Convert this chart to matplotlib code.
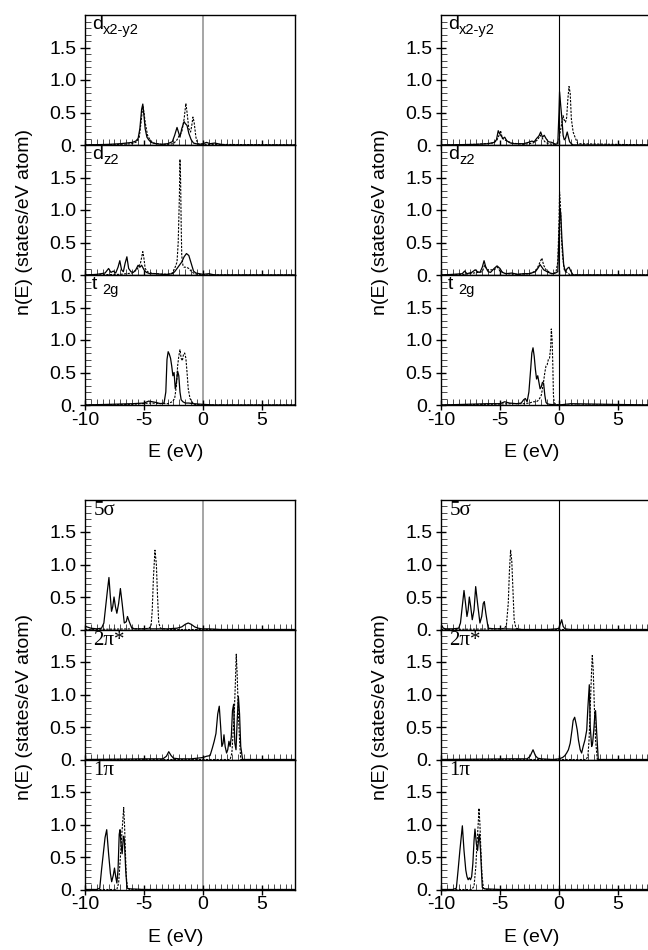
import matplotlib
matplotlib.use("Agg")
import matplotlib.pyplot as plt
from matplotlib.ticker import MultipleLocator, FixedLocator, FuncFormatter

plt.rcParams['font.family'] = ['Liberation Sans', 'DejaVu Sans']
plt.rcParams['axes.unicode_minus'] = False

# ---- data (E in eV, n in states/eV atom) ----
# left column (A), d-projected
a_dx_sol_e = [-10, -8, -7, -6.5, -6.0, -5.7, -5.5, -5.35, -5.2, -5.1, -5.0, -4.9, -4.75, -4.6, -4.4, -4.0, -3.5, -3.0, -2.6, -2.4, -2.2, -2.05, -1.95, -1.8, -1.6, -1.5, -1.35, -1.2, -1.0, -0.8, -0.6, -0.3, 0.0, 0.3, 0.6, 1.0, 1.5, 2.0, 7.8]
a_dx_sol_n = [0.0, 0.01, 0.02, 0.03, 0.04, 0.06, 0.10, 0.25, 0.55, 0.63, 0.45, 0.25, 0.12, 0.08, 0.04, 0.02, 0.01, 0.02, 0.05, 0.15, 0.27, 0.18, 0.12, 0.25, 0.36, 0.33, 0.30, 0.18, 0.08, 0.03, 0.02, 0.01, 0.02, 0.04, 0.02, 0.03, 0.01, 0.0, 0.0]
a_dx_dot_e = [-10, -7, -6, -5.6, -5.4, -5.25, -5.1, -5.0, -4.9, -4.7, -4.5, -4.2, -3.5, -3.0, -2.5, -2.2, -2.0, -1.8, -1.6, -1.45, -1.35, -1.2, -1.05, -0.95, -0.85, -0.75, -0.6, -0.45, 0, 1, 7.8]
a_dx_dot_n = [0, 0.01, 0.02, 0.05, 0.12, 0.35, 0.60, 0.50, 0.35, 0.15, 0.08, 0.03, 0.01, 0.01, 0.02, 0.08, 0.15, 0.2, 0.4, 0.64, 0.5, 0.25, 0.2, 0.3, 0.43, 0.35, 0.12, 0.02, 0.01, 0.01, 0]

a_dz_sol_e = [-10, -9, -8.3, -8.0, -7.8, -7.6, -7.4, -7.2, -7.05, -6.9, -6.75, -6.6, -6.45, -6.3, -6.1, -5.9, -5.7, -5.5, -5.35, -5.2, -5.0, -4.8, -4.5, -4.0, -3.5, -3.0, -2.6, -2.4, -2.2, -2.0, -1.8, -1.6, -1.4, -1.2, -1.0, -0.8, -0.6, -0.3, 0, 0.5, 1, 7.8]
a_dz_sol_n = [0.0, 0.01, 0.03, 0.10, 0.04, 0.06, 0.03, 0.12, 0.22, 0.08, 0.05, 0.18, 0.28, 0.10, 0.05, 0.04, 0.08, 0.15, 0.12, 0.15, 0.08, 0.04, 0.02, 0.02, 0.01, 0.01, 0.02, 0.05, 0.10, 0.15, 0.2, 0.28, 0.33, 0.30, 0.18, 0.06, 0.03, 0.02, 0.01, 0.02, 0, 0]
a_dz_dot_e = [-10, -7, -6, -5.6, -5.3, -5.1, -5.0, -4.9, -4.7, -4.4, -4.0, -3.0, -2.6, -2.4, -2.2, -2.1, -2.0, -1.95, -1.9, -1.85, -1.8, -1.7, -1.6, -1.4, -1.2, -1.0, -0.8, -0.5, 0, 7.8]
a_dz_dot_n = [0, 0.01, 0.03, 0.08, 0.18, 0.36, 0.25, 0.10, 0.05, 0.03, 0.02, 0.01, 0.03, 0.10, 0.20, 0.5, 1.2, 1.78, 1.5, 0.8, 0.3, 0.15, 0.12, 0.12, 0.10, 0.06, 0.03, 0.01, 0, 0]

a_t2_sol_e = [-10, -8, -6, -5, -4.6, -4.3, -4.0, -3.6, -3.3, -3.15, -3.05, -2.95, -2.85, -2.75, -2.65, -2.55, -2.45, -2.35, -2.25, -2.15, -2.05, -1.95, -1.85, -1.7, -1.5, -1.2, -0.8, 0, 1, 7.8]
a_t2_sol_n = [0.0, 0.01, 0.02, 0.03, 0.06, 0.05, 0.04, 0.02, 0.03, 0.2, 0.7, 0.82, 0.78, 0.72, 0.6, 0.45, 0.5, 0.25, 0.35, 0.52, 0.45, 0.2, 0.08, 0.05, 0.03, 0.03, 0.02, 0.01, 0.0, 0.0]
a_t2_dot_e = [-10, -6, -4.5, -3.0, -2.6, -2.4, -2.25, -2.15, -2.05, -1.95, -1.85, -1.75, -1.65, -1.55, -1.45, -1.35, -1.25, -1.1, -0.9, -0.7, 0, 7.8]
a_t2_dot_n = [0, 0.01, 0.03, 0.02, 0.05, 0.1, 0.3, 0.6, 0.75, 0.85, 0.72, 0.68, 0.78, 0.8, 0.72, 0.5, 0.25, 0.1, 0.04, 0.01, 0, 0]

# right column (B), d-projected
b_dx_sol_e = [-10, -7, -6, -5.5, -5.3, -5.15, -5.05, -4.9, -4.75, -4.6, -4.45, -4.3, -4.1, -3.8, -3.4, -3.0, -2.6, -2.3, -2.1, -1.9, -1.7, -1.55, -1.4, -1.25, -1.1, -0.9, -0.6, -0.3, -0.1, 0.0, 0.05, 0.15, 0.25, 0.35, 0.45, 0.55, 0.7, 0.8, 0.9, 1.05, 1.2, 7.8]
b_dx_sol_n = [0, 0.01, 0.02, 0.04, 0.08, 0.22, 0.18, 0.14, 0.10, 0.12, 0.07, 0.05, 0.03, 0.02, 0.02, 0.02, 0.04, 0.06, 0.05, 0.1, 0.14, 0.2, 0.12, 0.15, 0.1, 0.05, 0.04, 0.01, 0.02, 0.5, 0.82, 0.6, 0.4, 0.15, 0.08, 0.1, 0.2, 0.12, 0.05, 0.02, 0.0, 0.0]
b_dx_dot_e = [-10, -7, -5.6, -5.3, -5.1, -4.95, -4.8, -4.6, -4.4, -4.0, -3.0, -2.2, -1.8, -1.6, -1.4, -1.2, -0.9, -0.5, -0.2, 0.0, 0.2, 0.35, 0.45, 0.55, 0.65, 0.75, 0.85, 0.95, 1.05, 1.2, 1.4, 1.6, 7.8]
b_dx_dot_n = [0, 0.01, 0.03, 0.06, 0.14, 0.22, 0.1, 0.08, 0.06, 0.03, 0.01, 0.03, 0.08, 0.15, 0.1, 0.05, 0.02, 0.01, 0.02, 0.08, 0.3, 0.45, 0.38, 0.35, 0.42, 0.7, 0.9, 0.8, 0.4, 0.2, 0.1, 0.02, 0]

b_dz_sol_e = [-10, -9, -8.2, -8.0, -7.8, -7.4, -7.1, -6.9, -6.7, -6.5, -6.35, -6.2, -6.0, -5.8, -5.5, -5.25, -5.0, -4.8, -4.5, -4.0, -3.5, -3.0, -2.5, -2.0, -1.8, -1.6, -1.45, -1.3, -1.1, -0.9, -0.6, -0.3, -0.1, 0.0, 0.08, 0.15, 0.25, 0.4, 0.55, 0.7, 0.85, 1.0, 1.2, 7.8]
b_dz_sol_n = [0, 0.01, 0.02, 0.06, 0.02, 0.04, 0.08, 0.05, 0.04, 0.12, 0.22, 0.12, 0.05, 0.04, 0.1, 0.14, 0.10, 0.04, 0.02, 0.03, 0.01, 0.02, 0.02, 0.05, 0.10, 0.16, 0.12, 0.08, 0.06, 0.04, 0.02, 0.03, 0.05, 0.6, 1.0, 0.95, 0.55, 0.15, 0.05, 0.1, 0.12, 0.06, 0.0, 0.0]
b_dz_dot_e = [-10, -8, -6.5, -6.3, -6.1, -5.5, -5.2, -5.0, -4.5, -3.5, -2.5, -2.0, -1.8, -1.6, -1.45, -1.3, -1.1, -0.8, -0.5, -0.25, -0.1, 0.0, 0.05, 0.12, 0.2, 0.3, 0.45, 0.6, 0.8, 1.0, 7.8]
b_dz_dot_n = [0, 0.01, 0.05, 0.15, 0.08, 0.08, 0.12, 0.06, 0.02, 0.01, 0.02, 0.06, 0.12, 0.2, 0.26, 0.15, 0.08, 0.04, 0.01, 0.05, 0.2, 0.8, 1.28, 1.1, 0.6, 0.3, 0.08, 0.05, 0.02, 0.0, 0]

b_t2_sol_e = [-10, -8, -6, -5, -4.6, -4.2, -3.6, -3.2, -3.0, -2.85, -2.7, -2.55, -2.4, -2.3, -2.2, -2.1, -2.0, -1.9, -1.8, -1.7, -1.6, -1.5, -1.4, -1.3, -1.2, -1.1, -1.0, -0.8, 0, 1, 7.8]
b_t2_sol_n = [0, 0.01, 0.02, 0.02, 0.05, 0.03, 0.02, 0.03, 0.08, 0.10, 0.05, 0.2, 0.55, 0.8, 0.88, 0.75, 0.55, 0.4, 0.45, 0.35, 0.25, 0.28, 0.35, 0.33, 0.15, 0.04, 0.02, 0.01, 0.0, 0.02, 0]
b_t2_dot_e = [-10, -6, -4, -3.0, -2.5, -2.2, -1.9, -1.7, -1.5, -1.35, -1.2, -1.1, -1.0, -0.9, -0.8, -0.7, -0.65, -0.58, -0.52, -0.47, -0.4, -0.2, 0, 7.8]
b_t2_dot_n = [0, 0.01, 0.02, 0.02, 0.03, 0.05, 0.05, 0.08, 0.15, 0.3, 0.5, 0.6, 0.62, 0.7, 0.72, 0.9, 1.17, 1.0, 0.6, 0.15, 0.03, 0.01, 0, 0]

# left column (A), CO-projected
a_5s_sol_e = [-10, -9.5, -9, -8.6, -8.4, -8.25, -8.1, -7.97, -7.85, -7.75, -7.65, -7.54, -7.42, -7.3, -7.15, -7.0, -6.85, -6.67, -6.5, -6.4, -6.25, -6.05, -5.8, -5, -4, -3, -2.2, -1.8, -1.5, -1.25, -1.0, -0.7, -0.4, -0.1, 0.5, 1.5, 3, 5, 7.8]
a_5s_sol_n = [0.05, 0.02, 0.01, 0.02, 0.1, 0.35, 0.6, 0.8, 0.5, 0.28, 0.35, 0.5, 0.35, 0.25, 0.4, 0.63, 0.4, 0.1, 0.12, 0.2, 0.12, 0.03, 0.01, 0.01, 0.01, 0.01, 0.02, 0.04, 0.08, 0.1, 0.08, 0.04, 0.02, 0.01, 0.01, 0.0, 0.0, 0.0, 0]
a_5s_dot_e = [-10, -6, -5, -4.6, -4.4, -4.3, -4.2, -4.07, -3.95, -3.85, -3.75, -3.6, -3, 7.8]
a_5s_dot_n = [0, 0.01, 0.01, 0.02, 0.05, 0.3, 0.8, 1.22, 1.0, 0.5, 0.1, 0.02, 0, 0]

a_2p_sol_e = [-10, -5, -3.4, -3.1, -2.9, -2.7, -2.5, -2.0, -1, 0, 0.3, 0.6, 0.8, 0.95, 1.1, 1.25, 1.38, 1.5, 1.6, 1.7, 1.78, 1.88, 2.0, 2.1, 2.2, 2.3, 2.4, 2.5, 2.6, 2.7, 2.8, 2.9, 3.0, 3.1, 3.2, 3.36, 3.6, 7.8]
a_2p_sol_n = [0, 0.01, 0.01, 0.05, 0.12, 0.06, 0.02, 0.01, 0.01, 0.03, 0.05, 0.06, 0.18, 0.28, 0.4, 0.7, 0.82, 0.5, 0.2, 0.25, 0.38, 0.2, 0.1, 0.15, 0.28, 0.2, 0.35, 0.75, 0.85, 0.25, 0.15, 0.6, 0.97, 0.7, 0.2, 0.0, 0.0, 0]
a_2p_dot_e = [-10, 2.3, 2.45, 2.55, 2.65, 2.75, 2.82, 2.9, 3.0, 3.1, 3.2, 7.8]
a_2p_dot_n = [0, 0, 0.1, 0.4, 0.7, 1.2, 1.62, 1.3, 0.7, 0.3, 0.0, 0]

a_1p_sol_e = [-10, -9, -8.75, -8.6, -8.45, -8.3, -8.16, -8.0, -7.85, -7.74, -7.6, -7.5, -7.4, -7.3, -7.2, -7.1, -7.03, -6.95, -6.85, -6.75, -6.67, -6.55, -6.44, -6.2, -5, 7.8]
a_1p_sol_n = [0, 0.0, 0.02, 0.3, 0.55, 0.8, 0.92, 0.55, 0.25, 0.12, 0.22, 0.33, 0.2, 0.1, 0.3, 0.85, 0.92, 0.7, 0.55, 0.82, 0.78, 0.3, 0.02, 0.01, 0.0, 0]
a_1p_dot_e = [-10, -7.3, -7.15, -7.0, -6.9, -6.8, -6.72, -6.65, -6.58, -6.5, -6.4, -6.2, 7.8]
a_1p_dot_n = [0, 0, 0.1, 0.5, 0.8, 1.05, 1.26, 1.0, 0.6, 0.2, 0.02, 0, 0]

# right column (B), CO-projected
b_5s_sol_e = [-10, -9.8, -9.6, -9, -8.5, -8.35, -8.2, -8.05, -7.92, -7.8, -7.7, -7.6, -7.48, -7.35, -7.2, -7.06, -6.9, -6.7, -6.55, -6.42, -6.33, -6.2, -6.0, -5.5, -4.5, -3, -1, -0.2, 0.0, 0.1, 0.23, 0.35, 0.5, 1, 7.8]
b_5s_sol_n = [0.08, 0.02, 0.01, 0.01, 0.02, 0.1, 0.35, 0.6, 0.4, 0.2, 0.3, 0.5, 0.35, 0.15, 0.3, 0.66, 0.4, 0.1, 0.2, 0.4, 0.43, 0.25, 0.02, 0.01, 0.01, 0.0, 0.0, 0.01, 0.02, 0.08, 0.15, 0.05, 0.01, 0.0, 0]
b_5s_dot_e = [-10, -5, -4.6, -4.45, -4.3, -4.2, -4.1, -4.0, -3.9, -3.8, -3.65, -3.2, 7.8]
b_5s_dot_n = [0, 0.01, 0.02, 0.08, 0.4, 0.9, 1.22, 1.05, 0.6, 0.15, 0.02, 0, 0]

b_2p_sol_e = [-10, -4, -2.7, -2.45, -2.2, -2.0, -1.8, -1.5, -0.5, 0.0, 0.3, 0.5, 0.65, 0.8, 0.95, 1.1, 1.2, 1.33, 1.45, 1.55, 1.65, 1.8, 1.92, 2.05, 2.2, 2.35, 2.45, 2.57, 2.65, 2.77, 2.85, 2.95, 3.05, 3.1, 3.2, 3.33, 3.6, 7.8]
b_2p_sol_n = [0, 0.01, 0.01, 0.05, 0.15, 0.06, 0.02, 0.01, 0.0, 0.01, 0.03, 0.06, 0.1, 0.15, 0.25, 0.45, 0.6, 0.65, 0.55, 0.45, 0.3, 0.15, 0.1, 0.2, 0.3, 0.45, 0.8, 1.15, 0.5, 0.2, 0.25, 0.45, 0.72, 0.75, 0.4, 0.0, 0.0, 0]
b_2p_dot_e = [-10, 2.3, 2.45, 2.55, 2.65, 2.75, 2.82, 2.9, 3.0, 3.1, 3.25, 7.8]
b_2p_dot_n = [0, 0, 0.05, 0.3, 0.8, 1.3, 1.6, 1.4, 0.8, 0.3, 0.0, 0]

b_1p_sol_e = [-10, -9, -8.7, -8.55, -8.4, -8.19, -8.05, -7.9, -7.8, -7.7, -7.6, -7.5, -7.4, -7.3, -7.2, -7.12, -7.0, -6.9, -6.8, -6.75, -6.65, -6.5, -6.3, -5, 7.8]
b_1p_sol_n = [0, 0, 0.02, 0.3, 0.6, 0.98, 0.6, 0.3, 0.2, 0.15, 0.18, 0.15, 0.2, 0.4, 0.75, 0.93, 0.7, 0.6, 0.8, 0.85, 0.6, 0.03, 0.01, 0.0, 0]
b_1p_dot_e = [-10, -7.4, -7.2, -7.05, -6.95, -6.85, -6.78, -6.7, -6.62, -6.52, -6.4, -6.2, 7.8]
b_1p_dot_n = [0, 0, 0.05, 0.35, 0.7, 1.0, 1.25, 1.0, 0.6, 0.2, 0.02, 0, 0]

x_ticks = [-10, -5, 0, 5]
y_ticks = [0, 0.5, 1.0, 1.5]

W, H = 648, 950
fig = plt.figure(figsize=(W / 100, H / 100), dpi=100)


def add_ax(left, top, w=210, h=130):
    return fig.add_axes([left / W, 1 - (top + h) / H, w / W, h / H])


def style(ax, bottom, zero_col, zero_lw):
    ax.set_xlim(-10, 7.8); ax.set_ylim(0, 2.0)
    ax.axvline(0, color=zero_col, lw=zero_lw, zorder=1)
    ax.xaxis.set_major_locator(FixedLocator(x_ticks))
    ax.xaxis.set_minor_locator(MultipleLocator(0.5))
    ax.yaxis.set_major_locator(FixedLocator(y_ticks))
    ax.yaxis.set_minor_locator(MultipleLocator(0.1))
    ax.yaxis.set_major_formatter(FuncFormatter(lambda v, p: "0." if v == 0 else f"{v:.1f}"))
    ax.tick_params(which="major", direction="inout", length=7, width=1, labelsize=14)
    ax.tick_params(which="minor", direction="in", length=4, width=0.7, color="0.3")
    ax.tick_params(axis="y", pad=2.5)
    ax.tick_params(axis="x", pad=1.5, labelbottom=bottom)
    for s in ax.spines.values():
        s.set_linewidth(1)


def sub_label(ax, main, sub, gap=""):
    t = ax.text(0.033, 0.99, main + gap, transform=ax.transAxes, fontsize=14, va="top", ha="left")
    ax.annotate(sub, xy=(1, 0), xycoords=t, xytext=(0, -3), textcoords="offset points",
                fontsize=10.5, va="bottom", ha="left")


def co_label(ax, txt):
    ax.text(0.04, 0.985, txt, transform=ax.transAxes, fontsize=15, va="top", ha="left",
            family=["Liberation Serif", "DejaVu Serif"])


groups = [
    (85, 15, "0.62", 1.3, [(a_dx_sol_e, a_dx_sol_n, a_dx_dot_e, a_dx_dot_n),
                           (a_dz_sol_e, a_dz_sol_n, a_dz_dot_e, a_dz_dot_n),
                           (a_t2_sol_e, a_t2_sol_n, a_t2_dot_e, a_t2_dot_n)], "d"),
    (441, 15, "black", 0.8, [(b_dx_sol_e, b_dx_sol_n, b_dx_dot_e, b_dx_dot_n),
                             (b_dz_sol_e, b_dz_sol_n, b_dz_dot_e, b_dz_dot_n),
                             (b_t2_sol_e, b_t2_sol_n, b_t2_dot_e, b_t2_dot_n)], "d"),
    (85, 499.5, "0.62", 1.3, [(a_5s_sol_e, a_5s_sol_n, a_5s_dot_e, a_5s_dot_n),
                              (a_2p_sol_e, a_2p_sol_n, a_2p_dot_e, a_2p_dot_n),
                              (a_1p_sol_e, a_1p_sol_n, a_1p_dot_e, a_1p_dot_n)], "co"),
    (441, 499.5, "black", 0.8, [(b_5s_sol_e, b_5s_sol_n, b_5s_dot_e, b_5s_dot_n),
                                (b_2p_sol_e, b_2p_sol_n, b_2p_dot_e, b_2p_dot_n),
                                (b_1p_sol_e, b_1p_sol_n, b_1p_dot_e, b_1p_dot_n)], "co"),
]

for left, top, zc, zlw, panels, kind in groups:
    for i, (se, sn, de, dn) in enumerate(panels):
        ax = add_ax(left, top + i * 130)
        style(ax, i == 2, zc, zlw)
        ax.plot(de, dn, color="black", lw=0.8, ls=(0, (2, 1.2)), zorder=2)
        ax.plot(se, sn, color="black", lw=0.9, zorder=3)
        if kind == "d":
            if i == 0:
                sub_label(ax, "d", "x2-y2")
            elif i == 1:
                sub_label(ax, "d", "z2")
            else:
                sub_label(ax, "t", "2g", gap=" ")
        else:
            co_label(ax, ["5σ", "2π*", "1π"][i])
        if i == 2:
            ax.set_xlabel("E (eV)", fontsize=14)
            ax.xaxis.set_label_coords(0.433, -0.30)
    # y label centred beside the middle panel
    fig.text((left - 60) / W, 1 - (top + 207) / H, "n(E) (states/eV atom)", rotation=90,
             ha="center", va="center", fontsize=14)

fig.savefig("out.png", dpi=100)
